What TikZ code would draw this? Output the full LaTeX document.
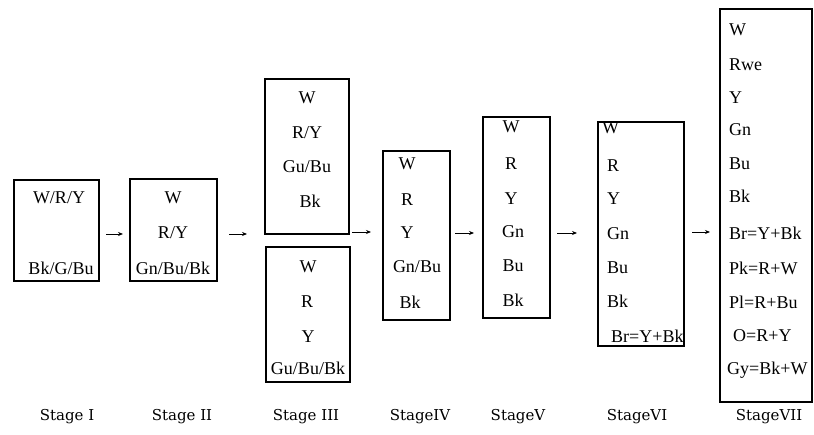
\documentclass[tikz,border=0pt]{standalone}
\usepackage{fontspec}
\setmainfont{Liberation Serif}
\newfontfamily\stagefont{DejaVu Serif}
\usetikzlibrary{arrows.meta}
\tikzset{
  stagebox/.style={draw, line width=1.2pt, inner sep=0pt, minimum width=#1},
  lbl/.style={font=\fontsize{18}{18}\selectfont, inner sep=0pt},
  lbll/.style={lbl, anchor=west},
  stagelbl/.style={font=\stagefont\fontsize{15}{15}\selectfont, inner sep=0pt},
  flow/.style={-{Stealth[length=5pt,width=4pt]}, line width=0.8pt}
}
\begin{document}
\begin{tikzpicture}[x=1pt,y=-1pt]
\useasboundingbox (0,0) rectangle (814,435);
% boxes
\node[stagebox=85, minimum height=101] (b1) at (56.5,230.5) {};
\node[stagebox=87, minimum height=102] (b2) at (173.5,230) {};
\node[stagebox=84, minimum height=155] (b3a) at (307,156.5) {};
\node[stagebox=84, minimum height=135] (b3b) at (308,314.5) {};
\node[stagebox=67, minimum height=169] (b4) at (416.5,235.5) {};
\node[stagebox=67, minimum height=201] (b5) at (516.5,217.5) {};
\node[stagebox=86, minimum height=224] (b6) at (641,234) {};
\node[stagebox=92, minimum height=393] (b7) at (766,205.5) {};
% stage I
\node[lbl] (t11) at (59,198) {W/R/Y};
\node[lbl] (t12) at (61,268) {Bk/G/Bu};
% stage II
\node[lbl] (t21) at (173,198) {W};
\node[lbl] (t22) at (173,233) {R/Y};
\node[lbl] (t23) at (173,268) {Gn/Bu/Bk};
% stage III
\node[lbl] (t31) at (307,98) {W};
\node[lbl] (t32) at (307,133) {R/Y};
\node[lbl] (t33) at (307,167) {Gu/Bu};
\node[lbl] (t34) at (310,201) {Bk};
\node[lbl] (t35) at (308,267) {W};
\node[lbl] (t36) at (307,302) {R};
\node[lbl] (t37) at (308,337) {Y};
\node[lbl] (t38) at (308,368) {Gu/Bu/Bk};
% stage IV
\node[lbl] (t41) at (407,164) {W};
\node[lbl] (t42) at (407,200) {R};
\node[lbl] (t43) at (407,233) {Y};
\node[lbl] (t44) at (417,267) {Gn/Bu};
\node[lbl] (t45) at (410,302) {Bk};
% stage V
\node[lbl] (t51) at (511,127) {W};
\node[lbl] (t52) at (511,164) {R};
\node[lbl] (t53) at (511,199) {Y};
\node[lbl] (t54) at (513,232) {Gn};
\node[lbl] (t55) at (513,266) {Bu};
\node[lbl] (t56) at (513,300) {Bk};
% stage VI
\node[lbll] (t61) at (602,128) {W};
\node[lbll] (t62) at (607,166) {R};
\node[lbll] (t63) at (607,199) {Y};
\node[lbll] (t64) at (607,234) {Gn};
\node[lbll] (t65) at (607,268) {Bu};
\node[lbll] (t66) at (607,301) {Bk};
\node[lbll] (t67) at (611,336) {Br=Y+Bk};
% stage VII
\node[lbll] (t71) at (729,30) {W};
\node[lbll] (t72) at (729,65) {Rwe};
\node[lbll] (t73) at (729,98) {Y};
\node[lbll] (t74) at (729,130) {Gn};
\node[lbll] (t75) at (729,164) {Bu};
\node[lbll] (t76) at (729,196) {Bk};
\node[lbll] (t77) at (729,233) {Br=Y+Bk};
\node[lbll] (t78) at (729,268) {Pk=R+W};
\node[lbll] (t79) at (729,302) {Pl=R+Bu};
\node[lbll] (t7a) at (733,336) {O=R+Y};
\node[lbll] (t7b) at (727,370) {Gy=Bk+W};
% stage labels
\node[stagelbl] (s1) at (67,417) {Stage I};
\node[stagelbl] (s2) at (182,417) {Stage II};
\node[stagelbl] (s3) at (306,417) {Stage III};
\node[stagelbl] (s4) at (420,417) {StageIV};
\node[stagelbl] (s5) at (518,417) {StageV};
\node[stagelbl] (s6) at (637,417) {StageVI};
\node[stagelbl] (s7) at (769,417) {StageVII};
% arrows
\coordinate (a1s) at (106,234);
\coordinate (a1e) at (123,234);
\draw[flow] (a1s) -- (a1e);
\coordinate (a2s) at (229,234);
\coordinate (a2e) at (247,234);
\draw[flow] (a2s) -- (a2e);
\coordinate (a3s) at (352,232);
\coordinate (a3e) at (371,232);
\draw[flow] (a3s) -- (a3e);
\coordinate (a4s) at (455,233);
\coordinate (a4e) at (474,233);
\draw[flow] (a4s) -- (a4e);
\coordinate (a5s) at (557,233);
\coordinate (a5e) at (577,233);
\draw[flow] (a5s) -- (a5e);
\coordinate (a6s) at (692,232);
\coordinate (a6e) at (710,232);
\draw[flow] (a6s) -- (a6e);
\end{tikzpicture}
\end{document}
